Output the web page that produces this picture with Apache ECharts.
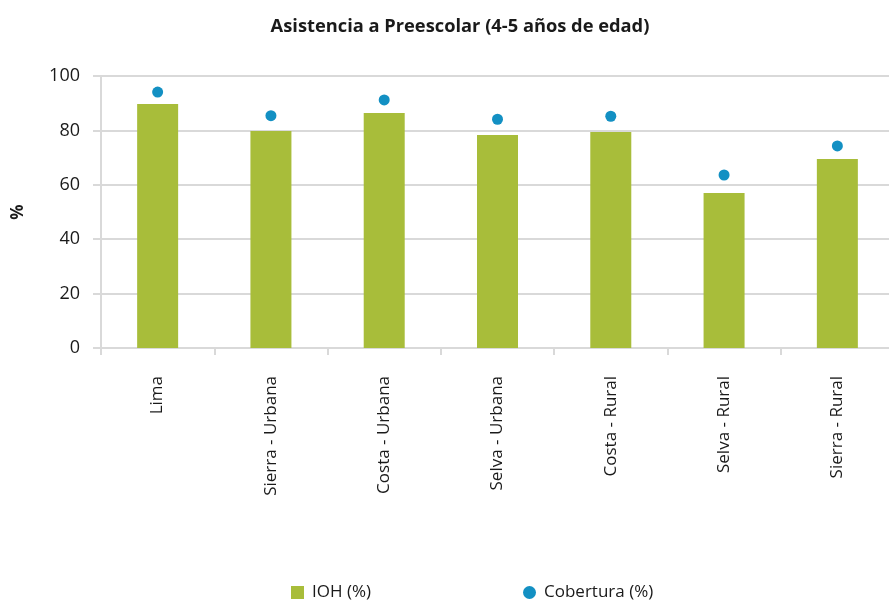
<!DOCTYPE html>
<html lang="es">
<head>
    <meta charset="UTF-8">
    <title>Asistencia a Preescolar</title>
    <script type="text/javascript" src="https://cdn.jsdelivr.net/npm/echarts@6/dist/echarts.min.js"></script>
</head>
<body style="margin:0;">

    <div id="chart" style="width:889px;height:603px;"></div>

<script type="text/javascript">
    // datos
    var categorias = ['Lima', 'Sierra - Urbana', 'Costa - Urbana', 'Selva - Urbana', 'Costa - Rural', 'Selva - Rural', 'Sierra - Rural'];
    var ioh = [89.7, 79.8, 86.4, 78.3, 79.4, 57.0, 69.5];
    var cobertura = [94.1, 85.4, 91.2, 84.1, 85.2, 63.6, 74.3];

    var gris = '#d9d9d9';
    var fuente = '"Open Sans", "Noto Sans", sans-serif';

    var dom = document.getElementById("chart");
    var myChart = echarts.init(dom);
    var option = {
        animation: false,
        textStyle: { fontFamily: fuente },
        title: {
            text: 'Asistencia a Preescolar (4-5 años de edad)',
            left: 455,
            top: 13,
            textAlign: 'center',
            textStyle: {
                fontFamily: fuente,
                fontSize: 18.3,
                fontWeight: 'bold',
                color: '#1a1a1a'
            }
        },
        legend: {
            bottom: -3,
            left: 286,
            itemGap: 152,
            itemWidth: 13,
            itemHeight: 13,
            textStyle: { fontFamily: fuente, fontSize: 17, color: '#1a1a1a', padding: [0, 0, 0, 3] },
            data: [
                { name: 'IOH (%)', icon: 'rect' },
                { name: 'Cobertura (%)', icon: 'circle' }
            ]
        },
        grid: {
            left: 101,
            top: 76,
            width: 793,
            height: 272,
            outerBoundsMode: 'none',
            containLabel: false
        },
        xAxis: {
            type: 'category',
            data: categorias,
            axisLine: { lineStyle: { color: gris, width: 2 } },
            axisTick: { show: true, length: 7, lineStyle: { color: gris, width: 2 } },
            axisLabel: {
                rotate: 90,
                margin: 28,
                fontSize: 17,
                color: '#1a1a1a',
                fontFamily: fuente
            }
        },
        yAxis: {
            type: 'value',
            min: 0,
            max: 100,
            interval: 20,
            name: '%',
            nameLocation: 'middle',
            nameGap: 74,
            nameTextStyle: { fontSize: 17, fontWeight: 'bold', color: '#1a1a1a', fontFamily: fuente },
            axisLine: { show: true, lineStyle: { color: gris, width: 2 } },
            axisTick: { show: true, length: 8, lineStyle: { color: gris, width: 2 } },
            axisLabel: { fontSize: 18, color: '#1a1a1a', margin: 21, fontFamily: fuente },
            splitLine: { lineStyle: { color: gris, width: 2 } }
        },
        series: [
            {
                name: 'IOH (%)',
                type: 'bar',
                data: ioh,
                barWidth: 41,
                itemStyle: { color: '#a8bd3a' }
            },
            {
                name: 'Cobertura (%)',
                type: 'scatter',
                data: cobertura,
                symbol: 'circle',
                symbolSize: 11,
                itemStyle: { color: '#1390c3', opacity: 1 }
            }
        ]
    };

    if (option && typeof option === "object") {
        myChart.setOption(option, true);
    }
</script>

</body>
</html>
